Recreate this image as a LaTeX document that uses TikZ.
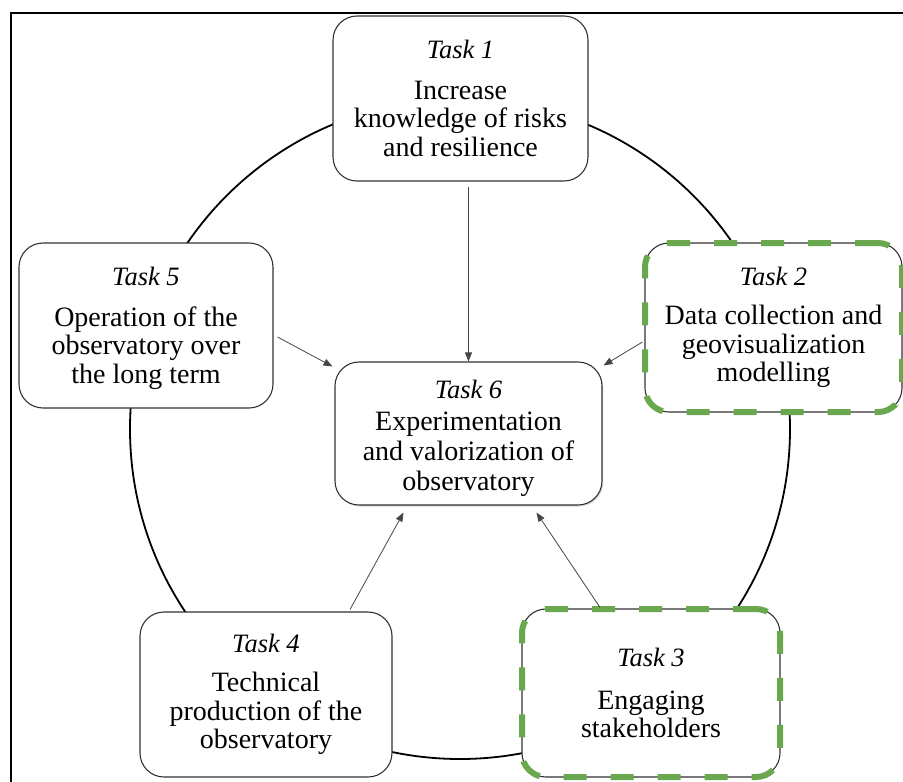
\documentclass[tikz,border=0pt]{standalone}
\usepackage{fontspec}
\setmainfont{Liberation Serif}
\usetikzlibrary{arrows.meta,shadows,calc}
\definecolor{taskgreen}{RGB}{106,168,79}
\definecolor{boxline}{RGB}{50,50,50}
\definecolor{connline}{RGB}{70,70,70}
\newcommand{\tasktitle}[1]{{\itshape\fontsize{26.5}{28}\selectfont #1}}
\begin{document}
\begin{tikzpicture}[x=1pt,y=-1pt,
  box/.style={draw=boxline, line width=1.1pt, rounded corners=24pt, fill=white,
    align=center, inner sep=0pt, font=\fontsize{28}{28.5}\selectfont},
  greenbox/.style={box, postaction={draw=taskgreen, line width=6pt, dash pattern=on 23pt off 24pt}},
  conn/.style={draw=connline, line width=0.8pt, -{Triangle[length=9pt,width=7pt]}},
  ring/.style={draw=black, line width=1.8pt}
]
\useasboundingbox (0,0) rectangle (903,782);
\draw[line width=2.4pt] (11,13) rectangle (920,800);
\draw[ring] (460,429) circle[radius=330];

\node[box, minimum width=255, minimum height=165] (t1) at (460.5,98.5)
  {\tasktitle{Task 1}\\[12pt]Increase\\knowledge of risks\\and resilience};
\node[greenbox, minimum width=257, minimum height=169] (t2) at (773.5,327.5)
  {\tasktitle{Task 2}\\[11pt]Data collection and\\geovisualization\\modelling};
\node[greenbox, minimum width=258, minimum height=168] (t3) at (651,693)
  {\tasktitle{Task 3}\\[14pt]Engaging\\stakeholders};
\node[box, minimum width=252, minimum height=165] (t4) at (266,694.5)
  {\tasktitle{Task 4}\\[11pt]Technical\\production of the\\observatory};
\node[box, minimum width=254, minimum height=165] (t5) at (146,325.5)
  {\tasktitle{\rule{0pt}{24pt}Task 5}\\[12pt]Operation of the\\observatory over\\the long term};
\node[box, minimum width=267, minimum height=143, font=\fontsize{28}{30}\selectfont,
  drop shadow={shadow xshift=1.2pt, shadow yshift=-1.5pt, opacity=0.3}] (t6) at (468.5,433.5)
  {\tasktitle{\rule{0pt}{29pt}Task 6}\\[2pt]Experimentation\\and valorization of\\observatory};

\draw[conn] ($(t1.south -| t6.north)+(0,5)$) -- (t6.north);
\draw[conn] ($(t5.east)+(4,11.5)$) -- ($(t6.north west)+(-2,5)$);
\draw[conn] ($(t2.west)+(-2,14.5)$) -- ($(t6.north east)+(1,4)$);
\draw[conn] ($(t4.north)+(84,-2)$) -- ($(t6.south)+(-65,7)$);
\draw[conn] ($(t3.north)+(-51,-1)$) -- ($(t6.south)+(68,7)$);
\end{tikzpicture}
\end{document}
